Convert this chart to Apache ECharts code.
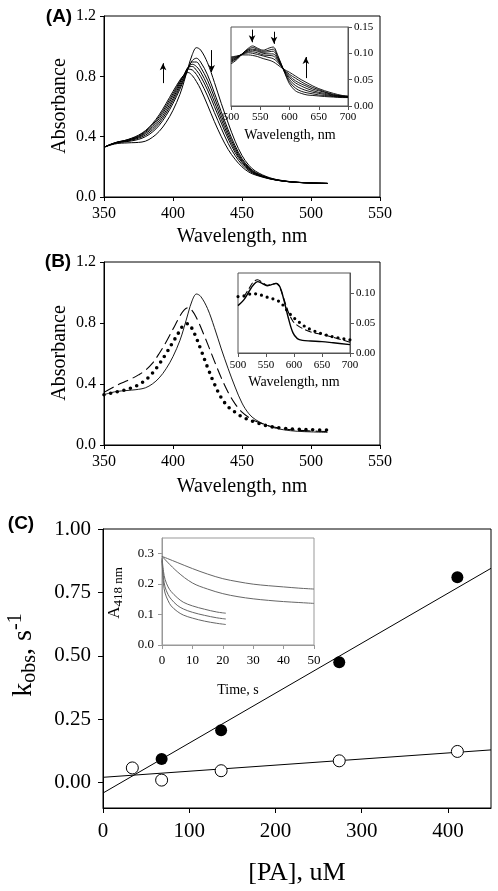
<!DOCTYPE html>
<html><head><meta charset="utf-8">
<script src="https://cdn.jsdelivr.net/npm/echarts@6/dist/echarts.min.js"></script>
<style>html,body{margin:0;padding:0;background:#fff}#c{width:498px;height:891px}</style>
</head><body><div id="c"></div>
<script>
// ---------- Panel A: main spectra ----------
const wlA = [350,355,360,365,370,375,380,385,390,395,400,405,408,411,414,417,420,425,430,435,440,445,450,455,460,470,480,490,500,512];
const absA1 = [.330,.345,.355,.358,.360,.362,.370,.395,.435,.495,.575,.680,.765,.860,.945,.990,.975,.890,.760,.620,.490,.370,.275,.210,.170,.128,.108,.098,.093,.090];
const absA2 = [.330,.347,.360,.365,.372,.382,.400,.430,.475,.540,.620,.715,.780,.850,.905,.920,.895,.810,.690,.565,.445,.340,.255,.198,.162,.125,.107,.098,.093,.090];
const absA3 = [.330,.348,.362,.368,.377,.390,.410,.443,.490,.557,.637,.730,.790,.855,.895,.895,.860,.775,.660,.540,.425,.325,.245,.192,.158,.124,.106,.097,.093,.090];
const absA4 = [.330,.348,.363,.370,.381,.396,.420,.455,.505,.573,.653,.745,.800,.860,.880,.865,.830,.740,.630,.515,.405,.310,.236,.186,.155,.123,.106,.097,.093,.090];
const absA5 = [.330,.349,.364,.372,.384,.400,.428,.467,.520,.590,.670,.758,.810,.860,.865,.840,.800,.710,.600,.490,.385,.295,.228,.181,.152,.122,.105,.097,.093,.090];
const absA6 = [.330,.350,.365,.374,.387,.405,.435,.477,.533,.605,.685,.767,.810,.848,.842,.812,.765,.670,.560,.455,.355,.275,.215,.174,.149,.121,.105,.097,.093,.090];
const absA7 = [.330,.350,.365,.375,.390,.410,.440,.485,.545,.620,.700,.775,.810,.825,.805,.765,.715,.610,.500,.400,.315,.250,.200,.165,.145,.120,.105,.097,.093,.090];
// ---------- Panel A: inset ----------
const wlAi = [500,510,520,530,537,545,555,565,572,580,590,600,610,620,630,640,650,660,675,690,700];
const insA1 = [.080,.088,.100,.110,.114,.110,.106,.110,.112,.096,.068,.042,.029,.024,.021,.020,.019,.018,.017,.016,.016];
const insA2 = [.083,.090,.100,.108,.111,.108,.104,.106,.108,.094,.068,.046,.034,.028,.025,.023,.021,.020,.018,.017,.016];
const insA3 = [.085,.091,.100,.107,.108,.106,.102,.103,.104,.091,.069,.050,.039,.033,.029,.026,.024,.022,.019,.018,.017];
const insA4 = [.087,.092,.099,.105,.106,.104,.100,.099,.099,.088,.069,.054,.044,.038,.033,.029,.026,.024,.020,.018,.017];
const insA5 = [.089,.093,.099,.103,.103,.101,.097,.096,.095,.086,.069,.057,.048,.042,.037,.032,.029,.026,.021,.019,.018];
const insA6 = [.091,.094,.098,.101,.100,.098,.095,.092,.090,.083,.070,.060,.053,.046,.040,.035,.031,.027,.022,.019,.018];
const insA7 = [.093,.095,.097,.097,.096,.094,.090,.087,.084,.078,.070,.064,.057,.050,.044,.038,.033,.029,.024,.020,.019];
// ---------- Panel B ----------
const wlB = [350,355,360,365,370,375,380,385,390,395,400,405,408,411,414,417,420,425,430,435,440,445,450,455,460,470,480,490,500,512];
const solidB  = [.330,.343,.352,.356,.360,.365,.375,.400,.440,.500,.580,.685,.770,.865,.950,.990,.975,.895,.770,.630,.500,.380,.275,.205,.165,.122,.100,.090,.086,.083];
const dashedB = [.345,.370,.395,.415,.435,.460,.490,.535,.600,.675,.760,.845,.885,.900,.880,.835,.775,.665,.550,.440,.345,.270,.215,.180,.155,.125,.107,.097,.092,.088];
const dottedB = [.330,.340,.350,.360,.375,.395,.425,.470,.530,.600,.675,.750,.790,.795,.760,.700,.630,.510,.400,.310,.250,.215,.185,.165,.148,.122,.110,.103,.100,.098];
const wlBi = [500,510,520,527,535,543,552,560,568,575,582,590,598,606,615,630,650,670,700];
const solidBi  = [.079,.088,.103,.113,.119,.116,.112,.114,.116,.110,.088,.058,.034,.024,.021,.020,.019,.017,.014];
const dashedBi = [null,.093,.108,.118,.122,.118,.113,.114,.116,.108,.090,.068,.053,.046,.041,.035,.031,.026,.018];
const dottedBi = [.094,.095,.098,.099,.098,.096,.093,.091,.088,.085,.078,.068,.060,.054,.047,.039,.032,.027,.022];
// ---------- Panel C ----------
const paFilled = [68,137,274,411];
const kFilled  = [0.093,0.207,0.475,0.81];
const paOpen = [34,68,137,274,411];
const kOpen  = [0.058,0.010,0.047,0.086,0.123];
const fitX = [0,450];
const fitFilled = [-0.041,0.845];
const fitOpen = [0.021,0.129];
const tSlow = [0,5,10,15,20,25,30,35,40,45,50];
const kinA = [0.290,0.270,0.250,0.232,0.217,0.207,0.199,0.194,0.190,0.186,0.183];
const kinB = [0.290,0.240,0.203,0.183,0.168,0.158,0.151,0.146,0.142,0.139,0.136];
const tFast = [0,0.5,1,2,3,5,7,10,14,18,21];
const kinC = [0.285,0.240,0.215,0.190,0.175,0.155,0.140,0.128,0.117,0.108,0.104];
const kinD = [0.280,0.220,0.190,0.165,0.150,0.130,0.118,0.107,0.097,0.089,0.085];
const kinE = [0.275,0.200,0.170,0.145,0.128,0.110,0.098,0.088,0.078,0.071,0.067];
// tick labels
const ticksBi_y = [0, 0.05, 0.10];
const ticksC_x = [0,100,200,300,400];
const ticksC_y = [0,0.25,0.5,0.75,1.0];
const ticksCi_y = [0,0.1,0.2,0.3];

const SERIF = 'Liberation Serif';
const pairs = (xs, ys) => xs.map((x,i)=>[x, ys[i]]).filter(p => p[1] !== null);

function axis(extra, fs, margin, color) {
  color = color || '#000';
  const base = {
    type: 'value',
    axisLine: {show: true, onZero: false, lineStyle: {color: color, width: 1}},
    axisTick: {show: true, length: 4, inside: false, lineStyle: {color: color, width: 1}},
    axisLabel: {fontFamily: SERIF, fontSize: fs, color: '#000', margin: margin},
    splitLine: {show: false}
  };
  const o = Object.assign({}, base, extra);
  if (extra.axisLabel) o.axisLabel = Object.assign({}, base.axisLabel, extra.axisLabel);
  if (extra.axisTick) o.axisTick = Object.assign({}, base.axisTick, extra.axisTick);
  return o;
}

const grids = [
  {left:104, top:16, width:276, height:181, show:true, borderColor:'#000', borderWidth:1, backgroundColor:'#fff'},
  {left:231, top:27, width:117, height:79, show:true, borderColor:'#555', borderWidth:1, backgroundColor:'#fff'},
  {left:104, top:262, width:276, height:183, show:true, borderColor:'#000', borderWidth:1, backgroundColor:'#fff'},
  {left:238, top:273, width:112, height:80, show:true, borderColor:'#555', borderWidth:1, backgroundColor:'#fff'},
  {left:103, top:529, width:388, height:279, show:true, borderColor:'#000', borderWidth:1, backgroundColor:'#fff'},
  {left:162, top:538, width:152, height:107, show:true, borderColor:'#999', borderWidth:1, backgroundColor:'#fff'}
];

const xAxes = [
  axis({gridIndex:0, min:350, max:550, interval:50}, 16, 9),
  axis({gridIndex:1, min:500, max:700, interval:50}, 11, 6, '#555'),
  axis({gridIndex:2, min:350, max:550, interval:50}, 16, 9),
  axis({gridIndex:3, min:500, max:700, interval:50}, 11, 7, '#555'),
  axis({gridIndex:4, min:0, max:450, axisLabel:{customValues:ticksC_x}, axisTick:{customValues:ticksC_x, length:5}}, 21, 13),
  axis({gridIndex:5, min:0, max:50, interval:10}, 13, 9, '#999')
];
const yAxes = [
  axis({gridIndex:0, min:0, max:1.2, interval:0.4, axisLabel:{formatter: v => v.toFixed(1)}}, 16, 8),
  axis({gridIndex:1, min:0, max:0.15, interval:0.05, position:'right', axisLabel:{formatter: v => v.toFixed(2)}}, 11, 6, '#555'),
  axis({gridIndex:2, min:0, max:1.2, interval:0.4, axisLabel:{formatter: v => v.toFixed(1)}}, 16, 8),
  axis({gridIndex:3, min:0, max:0.1333, position:'right', axisLabel:{customValues:ticksBi_y, formatter: v => v.toFixed(2)}, axisTick:{customValues:ticksBi_y}}, 11, 6, '#555'),
  axis({gridIndex:4, min:-0.1, max:1.0, axisLabel:{customValues:ticksC_y, formatter: v => v.toFixed(2)}, axisTick:{customValues:ticksC_y, length:5}}, 21, 12),
  axis({gridIndex:5, min:0, max:0.35, axisLabel:{customValues:ticksCi_y, formatter: v => v.toFixed(1)}, axisTick:{customValues:ticksCi_y}}, 13, 8, '#999')
];

function line(gi, data, style, extra) {
  return Object.assign({
    type:'line', xAxisIndex:gi, yAxisIndex:gi, data:data, showSymbol:false, symbol:'none',
    smooth:0.35, lineStyle:Object.assign({color:'#000', width:1}, style), silent:true, z:3
  }, extra || {});
}
function arrows(list) {
  return {
    silent:true, symbol:['none','arrow'], symbolSize:[5,7], animation:false,
    lineStyle:{color:'#000', width:1, type:'solid'}, label:{show:false}, emphasis:{disabled:true},
    data: list.map(a => [{coord:[a[0], a[1]]}, {coord:[a[0], a[2]]}])
  };
}
// arrow annotations in data units: [x, from, to]
const arrowsA = [[392.8, 0.755, 0.887], [428, 0.974, 0.828]];
const arrowsAi = [[536, 0.145, 0.121], [573.5, 0.141, 0.118], [628, 0.053, 0.093]];

const series = [];
[absA1,absA2,absA3,absA4,absA5,absA6,absA7].forEach((a,i) => {
  series.push(line(0, pairs(wlA,a), {}, i===0 ? {markLine: arrows(arrowsA)} : {}));
});
[insA1,insA2,insA3,insA4,insA5,insA6,insA7].forEach((a,i) => {
  series.push(line(1, pairs(wlAi,a), {width:0.9}, i===0 ? {markLine: arrows(arrowsAi)} : {}));
});
series.push(line(2, pairs(wlB,solidB), {width:0.9}));
series.push(line(2, pairs(wlB,dashedB), {width:1.1, type:[11,5]}));
series.push(line(2, pairs(wlB,dottedB), {width:3.6, type:[0,6.8], cap:'round'}));
series.push(line(3, pairs(wlBi,solidBi), {width:1.4}));
series.push(line(3, pairs(wlBi,dashedBi), {width:1.1, type:[7,3]}));
series.push(line(3, pairs(wlBi,dottedBi), {width:3.2, type:[0,6], cap:'round'}));
// panel C
series.push(line(4, pairs(fitX,fitFilled), {width:1}, {smooth:false, clip:true}));
series.push(line(4, pairs(fitX,fitOpen), {width:1}, {smooth:false, clip:true}));
series.push({type:'scatter', xAxisIndex:4, yAxisIndex:4, data:pairs(paFilled,kFilled), symbol:'circle', symbolSize:12,
  itemStyle:{color:'#000', opacity:1}, silent:true, z:5});
series.push({type:'scatter', xAxisIndex:4, yAxisIndex:4, data:pairs(paOpen,kOpen), symbol:'circle', symbolSize:12,
  itemStyle:{color:'#fff', borderColor:'#000', borderWidth:1, opacity:1}, silent:true, z:5});
[[tSlow,kinA],[tSlow,kinB],[tFast,kinC],[tFast,kinD],[tFast,kinE]].forEach(p => {
  series.push(line(5, pairs(p[0],p[1]), {color:'#666', width:1}, {z:6}));
});

const serifText = (text, x, y, size, rot, extra) => ({
  type:'text', x:x, y:y, rotation: rot || 0, z:100,
  style: Object.assign({text:text, fontFamily:SERIF, fontSize:size, fill:'#000', align:'center', verticalAlign:'middle'}, extra || {})
});
const graphic = [
  {type:'text', x:59, y:17, z:100, style:{text:'(A)', fontFamily:'Liberation Sans', fontWeight:'bold', fontSize:19, fill:'#000', align:'center', verticalAlign:'middle'}},
  {type:'text', x:58, y:262, z:100, style:{text:'(B)', fontFamily:'Liberation Sans', fontWeight:'bold', fontSize:19, fill:'#000', align:'center', verticalAlign:'middle'}},
  {type:'text', x:21, y:524, z:100, style:{text:'(C)', fontFamily:'Liberation Sans', fontWeight:'bold', fontSize:19, fill:'#000', align:'center', verticalAlign:'middle'}},
  serifText('Absorbance', 60, 106, 20, Math.PI/2),
  serifText('Absorbance', 60, 353, 20, Math.PI/2),
  serifText('Wavelength, nm', 242, 237, 20),
  serifText('Wavelength, nm', 242, 487, 20),
  serifText('Wavelength, nm', 290, 135, 14),
  serifText('Wavelength, nm', 294, 382, 14),
  serifText('Time, s', 238, 690, 14),
  serifText('[PA], uM', 297, 873, 26),
  {type:'text', x:24, y:655, rotation:Math.PI/2, z:100, style:{
    text:'{k|k}{sub|obs}{k|, s}{sup|-1}', align:'center', verticalAlign:'middle', fill:'#000',
    rich:{
      k:{fontFamily:SERIF, fontSize:28, lineHeight:36, verticalAlign:'middle', fill:'#000'},
      sub:{fontFamily:SERIF, fontSize:20, lineHeight:36, verticalAlign:'bottom', fill:'#000', padding:[0,0,2,0]},
      sup:{fontFamily:SERIF, fontSize:20, lineHeight:36, verticalAlign:'top', fill:'#000'}
    }}},
  {type:'text', x:115, y:593, rotation:Math.PI/2, z:100, style:{
    text:'{a|A}{s|418 nm}', align:'center', verticalAlign:'middle', fill:'#000',
    rich:{
      a:{fontFamily:SERIF, fontSize:17, lineHeight:20, verticalAlign:'middle', fill:'#000'},
      s:{fontFamily:SERIF, fontSize:13, lineHeight:20, verticalAlign:'bottom', fill:'#000'}
    }}}
];

const chart = echarts.init(document.getElementById('c'), null, {renderer:'canvas'});
chart.setOption({
  animation:false,
  backgroundColor:'#fff',
  grid:grids, xAxis:xAxes, yAxis:yAxes, series:series, graphic:graphic
});
</script>
</body></html>
